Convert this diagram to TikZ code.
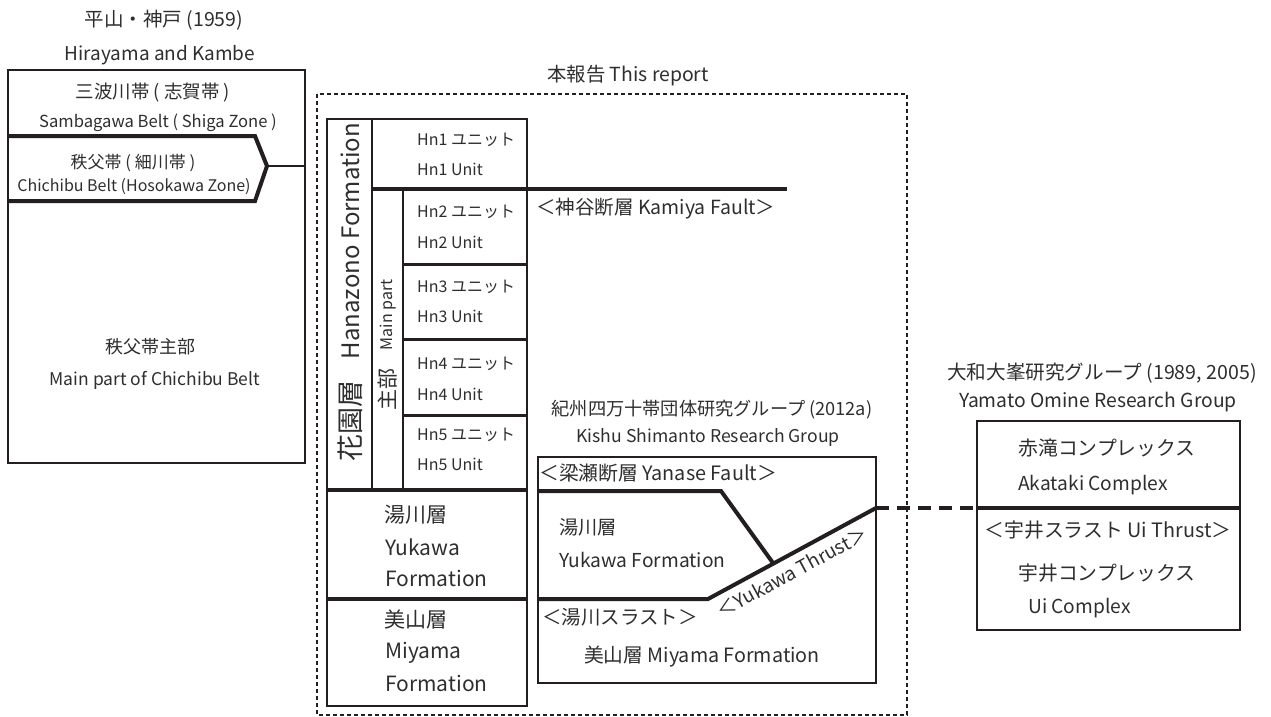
\documentclass[tikz,border=0pt]{standalone}
\usepackage{fontspec}
\setmainfont{Noto Sans CJK JP}
\definecolor{txt}{HTML}{2E2E2E}
\definecolor{ln}{HTML}{231F20}
\tikzset{
  boxline/.style={draw=ln, line width=1.5pt},
  heavy/.style={draw=ln, line width=4pt},
  midline/.style={draw=ln, line width=3pt},
  dashbox/.style={draw=ln, line width=1.5pt, dash pattern=on 4pt off 3pt},
  dashheavy/.style={draw=ln, line width=4pt, dash pattern=on 13pt off 8pt},
  lbl/.style={text=txt, inner sep=0pt, font=\fontsize{#1}{#1}\selectfont},
  lbl/.default=16,
}
\begin{document}
\begin{tikzpicture}[x=1pt,y=-1pt]
\useasboundingbox (0,0) rectangle (1271,717);
% ---------- left: Hirayama and Kambe ----------
\node[lbl=19.5] (hk1) at (164,20) {平山・神戸 (1959)};
\node[lbl=19] (hk2) at (160,55) {Hirayama and Kambe};
\coordinate (lbA) at (8,70);
\coordinate (lbB) at (305,463);
\draw[boxline] (lbA) rectangle (lbB);
\node[lbl=18.5] (sb1) at (153,93) {三波川帯 ( 志賀帯 )};
\node[lbl=16.6] (sb2) at (158,123) {Sambagawa Belt ( Shiga Zone )};
\coordinate (cv1) at (8,136);
\coordinate (cv2) at (255,136);
\coordinate (cvtip) at (267,166);
\coordinate (cv3) at (255,201);
\coordinate (cv4) at (8,201);
\coordinate (cvend) at (305,166);
\draw[heavy] (cv1) -- (cv2) -- (cvtip) -- (cv3) -- (cv4);
\draw[draw=ln, line width=2.5pt] (cvtip) -- (cvend);
\node[lbl=17] (cb1) at (133,163) {秩父帯 ( 細川帯 )};
\node[lbl=16] (cb2) at (134,187) {Chichibu Belt (Hosokawa Zone)};
\node[lbl=18] (mp1) at (150,347) {秩父帯主部};
\node[lbl=17.5] (mp2) at (155,380) {Main part of Chichibu Belt};
% ---------- this report ----------
\node[lbl=19.4] (rep) at (628,76) {本報告 This report};
\coordinate (dbA) at (317,94);
\coordinate (dbB) at (907,715);
\draw[dashbox] (dbA) rectangle (dbB);
\coordinate (inA) at (327,119);
\coordinate (inB) at (527,706);
\draw[boxline] (inA) rectangle (inB);
\draw[boxline] (372,119) -- (372,490);
\draw[boxline] (403,189) -- (403,490);
\coordinate (km1) at (372,189);
\coordinate (km2) at (787,189);
\draw[heavy] (km1) -- (km2);
\draw[midline] (403,264) -- (527,264);
\draw[midline] (403,339) -- (527,339);
\draw[midline] (403,415) -- (527,415);
\draw[heavy] (327,490) -- (527,490);
\draw[heavy] (327,599) -- (527,599);
\node[lbl=24, rotate=90] (hz1) at (350,241) {Hanazono Formation};
\node[lbl=27, rotate=90] (hz2) at (350,421) {花園層};
\node[lbl=16, rotate=90] (mn1) at (388,315) {Main part};
\node[lbl=21, rotate=90] (mn2) at (388,389) {主部};
\node[lbl, anchor=west] (h1a) at (417,140) {Hn1 ユニット};
\node[lbl, anchor=west] (h1b) at (417,169) {Hn1 Unit};
\node[lbl, anchor=west] (h2a) at (417,212) {Hn2 ユニット};
\node[lbl, anchor=west] (h2b) at (417,242) {Hn2 Unit};
\node[lbl, anchor=west] (h3a) at (417,287) {Hn3 ユニット};
\node[lbl, anchor=west] (h3b) at (417,316) {Hn3 Unit};
\node[lbl, anchor=west] (h4a) at (417,364) {Hn4 ユニット};
\node[lbl, anchor=west] (h4b) at (417,394) {Hn4 Unit};
\node[lbl, anchor=west] (h5a) at (417,435) {Hn5 ユニット};
\node[lbl, anchor=west] (h5b) at (417,464) {Hn5 Unit};
\node[lbl=21, anchor=west] (yk1) at (384,515) {湯川層};
\node[lbl=21, anchor=west] (yk2) at (385,547) {Yukawa};
\node[lbl=21, anchor=west] (yk3) at (385,578) {Formation};
\node[lbl=21, anchor=west] (my1) at (384,620) {美山層};
\node[lbl=21, anchor=west] (my2) at (385,653) {Miyama};
\node[lbl=21, anchor=west] (my3) at (385,683) {Formation};
\node[lbl=19.5, anchor=west] (kmf) at (536,209) {＜神谷断層 Kamiya Fault＞};
% ---------- Kishu Shimanto ----------
\node[lbl=18.2] (ks1) at (712,410) {紀州四万十帯団体研究グループ (2012a)};
\node[lbl=17.6] (ks2) at (708,438) {Kishu Shimanto Research Group};
\coordinate (ksA) at (538,457);
\coordinate (ksB) at (876,683);
\draw[boxline] (ksA) rectangle (ksB);
\node[lbl=19.8, anchor=west] (yf) at (539,473) {＜梁瀬断層 Yanase Fault＞};
\coordinate (yf1) at (538,491);
\coordinate (yf2) at (721,491);
\coordinate (yf3) at (773,563);
\draw[heavy, line join=miter] (yf1) -- (yf2) -- (yf3);
\coordinate (yt1) at (538,599);
\coordinate (yt2) at (708,599);
\coordinate (yt3) at (876,508);
\draw[heavy] (yt1) -- (yt2) -- (yt3);
\node[lbl=19.2, anchor=west] (kyk1) at (559,527) {湯川層};
\node[lbl=19.2, anchor=west] (kyk2) at (559,560) {Yukawa Formation};
\node[lbl=19.5, anchor=west] (yts) at (542,617) {＜湯川スラスト＞};
\node[lbl=19, rotate=28.3] (ytr) at (792,572) {＜Yukawa Thrust＞};
\node[lbl=19.7] (kmy) at (702,657) {美山層 Miyama Formation};
% ---------- Yamato Omine ----------
\node[lbl=19.6] (ym1) at (1102,373) {大和大峯研究グループ (1989, 2005)};
\node[lbl=19.3] (ym2) at (1098,402) {Yamato Omine Research Group};
\coordinate (ymA) at (977,421);
\coordinate (ymB) at (1240,630);
\draw[boxline] (ymA) rectangle (ymB);
\coordinate (ut1) at (977,508);
\coordinate (ut2) at (1240,508);
\draw[heavy] (ut1) -- (ut2);
\draw[dashheavy] (yt3) -- (ut1);
\node[lbl=19.8] (ak1) at (1107,448) {赤滝コンプレックス};
\node[lbl=19.2, anchor=west] (ak2) at (1018,485) {Akataki Complex};
\node[lbl=19.8] (uit) at (1108,530) {＜宇井スラスト Ui Thrust＞};
\node[lbl=19.8] (ui1) at (1107,573) {宇井コンプレックス};
\node[lbl=19.2, anchor=west] (ui2) at (1028,608) {Ui Complex};
\end{tikzpicture}
\end{document}
